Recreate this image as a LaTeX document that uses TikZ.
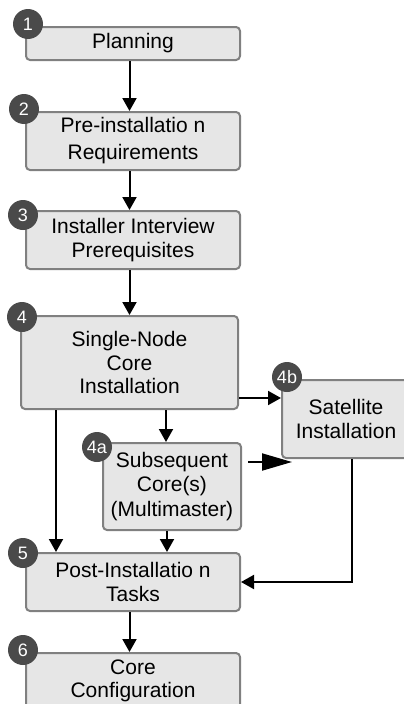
\documentclass[tikz,border=0pt]{standalone}
\usepackage{fontspec}
\setmainfont{Liberation Sans}
\usetikzlibrary{arrows.meta}
\definecolor{boxfill}{HTML}{E6E6E6}
\definecolor{boxline}{HTML}{808080}
\definecolor{badge}{HTML}{4A4A4A}
\begin{document}
\begin{tikzpicture}[x=1pt,y=-1pt,
  stepbox/.style={draw=boxline, fill=boxfill, line width=2pt, rounded corners=4pt,
    inner sep=0pt, align=center, font=\fontsize{21}{23.5}\selectfont},
  badgenode/.style={circle, fill=badge, minimum size=30pt, inner sep=0pt,
    text=white, font=\fontsize{18}{18}\selectfont},
  arr/.style={line width=2pt, -{Triangle[length=13pt,width=14pt]}},
  bigarr/.style={line width=2pt, -{Triangle[length=30pt,width=17pt]}}]
\useasboundingbox (0,0) rectangle (404,704);
\clip (0,0) rectangle (404,704);

\node[stepbox, minimum width=214pt, minimum height=33pt] (b1) at (133,43.5) {Planning};
\node[stepbox, minimum width=214pt, minimum height=58pt, font=\fontsize{21}{27}\selectfont] (b2) at (133,141) {Pre-installatio n\\Requirements};
\node[stepbox, minimum width=214pt, minimum height=58pt] (b3) at (133,240) {Installer Interview\\Prerequisites};
\node[stepbox, minimum width=217pt, minimum height=93pt] (b4) at (129.5,362.5) {Single-Node\\Core\\Installation};
\node[stepbox, minimum width=138pt, minimum height=87pt, font=\fontsize{21}{24.5}\selectfont] (b4a) at (172,486.5) {Subsequent\\Core(s)\\(Multimaster)};
\node[stepbox, minimum width=128pt, minimum height=78pt] (b4b) at (346,419) {Satellite\\Installation};
\node[stepbox, minimum width=214pt, minimum height=58pt] (b5) at (133,582) {Post-Installatio n\\Tasks};
\node[stepbox, minimum width=214pt, minimum height=56pt] (b6) at (133,681) {Core\\Configuration};

\node[badgenode] (n1) at (28,24) {1};
\node[badgenode] (n2) at (24,109) {2};
\node[badgenode] (n3) at (23,215) {3};
\node[badgenode] (n4) at (22,317) {4};
\node[badgenode] (n4a) at (97,447) {4a};
\node[badgenode] (n4b) at (287,377) {4b};
\node[badgenode] (n5) at (23,553) {5};
\node[badgenode] (n6) at (23,650) {6};

\coordinate (xl) at (56,0);
\coordinate (ya) at (0,398);
\coordinate (yb) at (0,462);
\coordinate (xr) at (352,0);

\draw[arr] (b1.south -| b4) -- (b2.north -| b4);
\draw[arr] (b2.south -| b4) -- (b3.north -| b4);
\draw[arr] (b3.south -| b4) -- (b4.north);
\draw[arr] ([xshift=-6pt]b4a.north |- b4.south) -- ([xshift=-6pt]b4a.north);
\draw[arr] (b4.east |- ya) -- (b4b.west |- ya);
\draw[bigarr] ([xshift=6pt]b4a.east |- yb) -- ([xshift=11pt]b4b.west |- yb);
\draw[arr] (b4.south -| xl) -- (b5.north -| xl);
\draw[arr] ([xshift=-5pt]b4a.south) -- ([xshift=-5pt]b4a.south |- b5.north);
\draw[arr] (b4b.south -| xr) |- (b5.east);
\draw[arr] (b5.south -| b4) -- (b6.north -| b4);
\end{tikzpicture}
\end{document}
